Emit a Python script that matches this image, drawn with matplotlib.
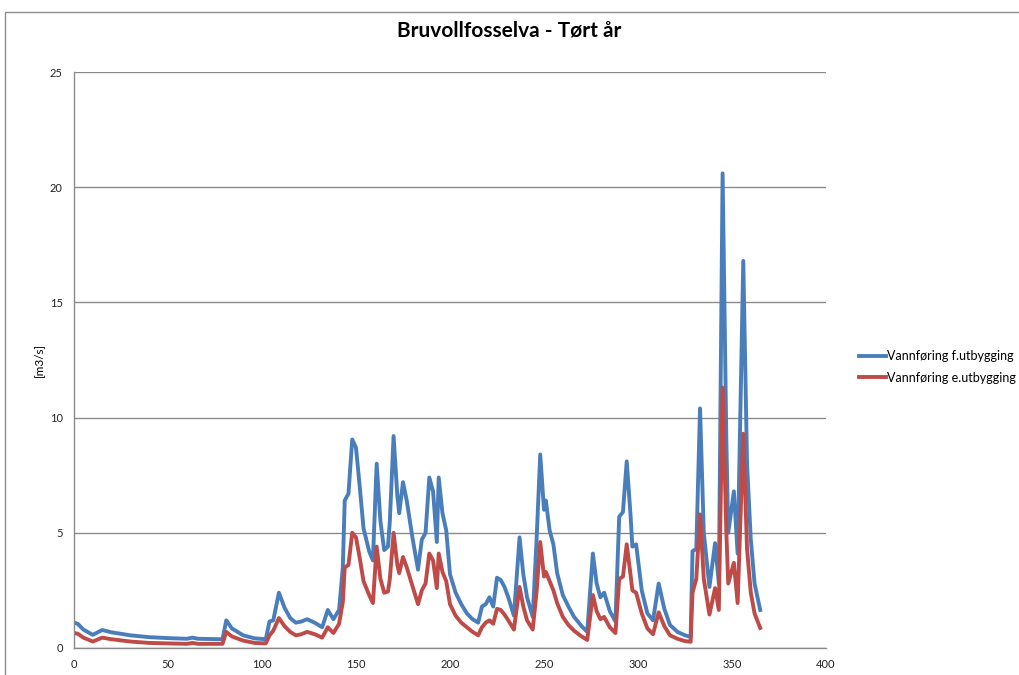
import matplotlib
matplotlib.use("Agg")
import matplotlib.pyplot as plt
from matplotlib.patches import Rectangle

# daily discharge, Bruvollfosselva dry year (breakpoints of the hydrograph)
days = [0, 2, 5, 10, 15, 20, 30, 40, 50, 60, 63, 66, 79, 81, 84, 90, 96, 102,
        104, 106, 109, 112, 115, 118, 121, 124, 128, 132, 135, 138, 141, 143,
        144, 146, 148, 150, 152, 154, 157, 159, 161, 163, 165, 167, 168, 170,
        172, 173, 175, 177, 180, 183, 185, 187, 189, 191, 193, 194, 196, 198,
        200, 203, 206, 209, 212, 215, 217, 219, 221, 223, 225, 227, 229, 231,
        234, 237, 239, 241, 244, 246, 248, 250, 251, 253, 255, 257, 260, 263,
        266, 270, 273, 276, 278, 280, 282, 285, 288, 290, 292, 294, 296, 297,
        299, 302, 305, 308, 311, 314, 317, 321, 325, 328, 329, 331, 333, 335,
        338, 341, 343, 345, 347, 348, 351, 353, 356, 358, 360, 362, 365]

flow_before = [1.10, 1.05, 0.80, 0.57, 0.78, 0.68, 0.55, 0.47, 0.43, 0.40,
               0.45, 0.40, 0.38, 1.20, 0.85, 0.55, 0.42, 0.38,
               1.15, 1.20, 2.40, 1.75, 1.30, 1.10, 1.15, 1.25, 1.10, 0.90,
               1.65, 1.25, 1.65, 3.50,
               6.40, 6.70, 9.05, 8.70, 7.00, 5.20, 4.20, 3.80, 8.00, 5.50,
               4.25, 4.40, 5.50, 9.20,
               6.60, 5.85, 7.20, 6.40, 4.80, 3.40, 4.70, 5.00, 7.40, 6.80,
               4.60, 7.40, 5.85, 5.10,
               3.20, 2.40, 1.90, 1.50, 1.25, 1.10, 1.80, 1.90, 2.20, 1.80,
               3.05, 2.95, 2.65, 2.20,
               1.40, 4.80, 3.20, 2.20, 1.35, 4.60, 8.40, 6.00, 6.40, 5.10,
               4.50, 3.25, 2.30, 1.80,
               1.35, 0.95, 0.70, 4.10, 2.80, 2.20, 2.40, 1.60, 1.15, 5.70,
               5.90, 8.10, 5.80, 4.40,
               4.50, 2.50, 1.50, 1.20, 2.80, 1.70, 1.00, 0.70, 0.55, 0.48,
               4.20, 4.30, 10.40, 5.00,
               2.65, 4.55, 2.80, 20.60, 9.00, 5.00, 6.80, 4.10, 16.80, 8.00,
               4.70, 2.80, 1.65]

flow_after = [0.65, 0.62, 0.45, 0.28, 0.45, 0.38, 0.28, 0.22, 0.20, 0.18,
              0.22, 0.18, 0.18, 0.70, 0.50, 0.32, 0.22, 0.20,
              0.55, 0.75, 1.30, 0.95, 0.70, 0.55, 0.60, 0.70, 0.60, 0.45,
              0.90, 0.65, 1.05, 2.00,
              3.50, 3.60, 5.00, 4.80, 3.90, 2.90, 2.30, 1.95, 4.40, 3.00,
              2.40, 2.45, 3.00, 5.00,
              3.60, 3.25, 3.95, 3.50, 2.70, 1.90, 2.50, 2.80, 4.10, 3.80,
              2.60, 4.10, 3.30, 2.90,
              1.90, 1.40, 1.10, 0.90, 0.70, 0.55, 0.90, 1.10, 1.20, 1.05,
              1.70, 1.65, 1.45, 1.20,
              0.80, 2.65, 1.80, 1.20, 0.80, 2.40, 4.60, 3.10, 3.30, 2.90,
              2.50, 1.95, 1.35, 1.00,
              0.75, 0.50, 0.35, 2.30, 1.60, 1.25, 1.35, 0.90, 0.65, 3.00,
              3.10, 4.50, 3.20, 2.50,
              2.40, 1.50, 0.85, 0.60, 1.55, 0.95, 0.55, 0.40, 0.30, 0.27,
              2.40, 3.00, 5.80, 3.00,
              1.45, 2.60, 1.65, 11.30, 5.00, 2.80, 3.70, 1.95, 9.30, 4.30,
              2.40, 1.50, 0.87]

x_ticks = [0, 50, 100, 150, 200, 250, 300, 350, 400]
y_ticks = [0, 5, 10, 15, 20, 25]

plt.rcParams["font.family"] = ["Lato", "DejaVu Sans"]

fig = plt.figure(figsize=(10.19, 6.75), dpi=100)
ax = fig.add_axes([0.0726, 0.04, 0.738, 0.8533])

# chart area frame
fig.patches.append(Rectangle((5 / 1019, -0.1), 1.2, 1.1 - 12 / 675,
                             transform=fig.transFigure, fill=False,
                             edgecolor="#8c8c8c", linewidth=1.0))

ax.plot(days, flow_before, color="#4A7EBB", linewidth=2.8,
        label="Vannføring f.utbygging", solid_joinstyle="round")
ax.plot(days, flow_after, color="#BE4B48", linewidth=2.8,
        label="Vannføring e.utbygging", solid_joinstyle="round")

ax.set_xlim(0, 400)
ax.set_ylim(0, 25)
ax.set_xticks(x_ticks)
ax.set_yticks(y_ticks)
ax.tick_params(length=0, labelsize=8, colors="#222222", pad=8)
ax.yaxis.grid(True, color="#8a8a8a", linewidth=1.0)
ax.set_axisbelow(True)
for side in ["top", "right"]:
    ax.spines[side].set_visible(False)
for side in ["left", "bottom"]:
    ax.spines[side].set_color("#8a8a8a")
    ax.spines[side].set_linewidth(1.0)

ax.set_ylabel("[m3/s]", fontsize=8.5, labelpad=4)
fig.text(0.5, 0.955, "Bruvollfosselva - Tørt år", ha="center", va="center",
         fontsize=15, fontweight="bold")

fig.legend(loc="upper left", bbox_to_anchor=(848 / 1019, 1 - 339 / 675),
           frameon=False, fontsize=9, handlelength=2.1, handletextpad=0.15,
           labelspacing=0.75)

fig.savefig("out.png", dpi=100)
